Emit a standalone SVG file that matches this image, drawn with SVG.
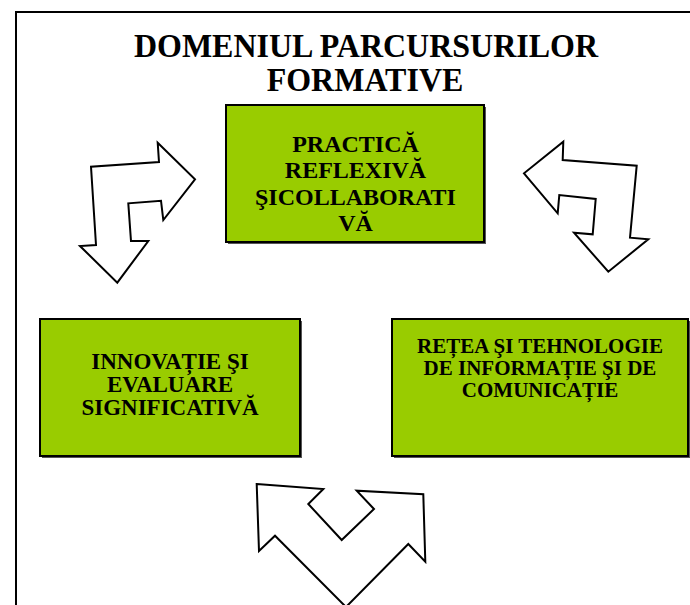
<svg xmlns="http://www.w3.org/2000/svg" width="690" height="605" viewBox="0 0 690 605">
<style>
.frame{fill:#fff;stroke:#000;stroke-width:2}
.box{fill:#99cc00;stroke:#000;stroke-width:2}
.shadow{fill:#555}
.arrow{fill:#fff;stroke:#000;stroke-width:2;stroke-linejoin:miter}
.t{font-family:"Liberation Serif","Times New Roman",serif;font-weight:bold;fill:#000;text-anchor:middle}
.title{font-size:32px}
.lbl{font-size:24px}
.lbl3{font-size:23px}
.lbl2{font-size:21px}
</style>
<rect x="0" y="0" width="690" height="605" fill="#fff"/>
<rect class="frame" x="16" y="12" width="720" height="700"/>
<g id="title">
<text class="t title" transform="translate(366,57) scale(1,1.05)" x="0" y="0">DOMENIUL PARCURSURILOR</text>
<text class="t title" transform="translate(365,91) scale(1,1.05)" x="0" y="0">FORMATIVE</text>
</g>
<g id="node-practica">
<rect class="shadow" x="228" y="107" width="258" height="137"/>
<rect class="box" x="226" y="105" width="258" height="137"/>
<text class="t lbl" x="355.5" y="151.5">PRACTICĂ</text>
<text class="t lbl" x="355.5" y="178">REFLEXIVĂ</text>
<text class="t lbl" x="355.5" y="204.5">ŞICOLLABORATI</text>
<text class="t lbl" x="355.5" y="231">VĂ</text>
</g>
<g id="node-innovatie">
<rect class="shadow" x="42" y="321" width="260" height="137"/>
<rect class="box" x="40" y="319" width="260" height="137"/>
<text class="t lbl3" x="170" y="369">INNOVAȚIE ŞI</text>
<text class="t lbl3" x="170" y="392">EVALUARE</text>
<text class="t lbl3" x="170" y="415">SIGNIFICATIVĂ</text>
</g>
<g id="node-retea">
<rect class="shadow" x="394" y="321" width="296" height="137"/>
<rect class="box" x="392" y="319" width="296" height="137"/>
<text class="t lbl2" x="540" y="353">REȚEA ŞI TEHNOLOGIE</text>
<text class="t lbl2" x="540" y="375">DE INFORMAȚIE ŞI DE</text>
<text class="t lbl2" x="540" y="397">COMUNICAȚIE</text>
</g>
<g id="connectors">
<polygon class="arrow" points="157.7,142.7 195,179.3 163.3,220 161,200.7 128.3,203.3 131,241 148.3,241 117.3,282.7 80,246 96,245 91,166.7 159,162"/>
<polygon class="arrow" points="563.3,141.7 562.7,160 636.7,165.7 630,237.7 648.3,239.3 608.3,271.7 574,232.7 592.7,234.3 595.7,199 559.3,195 557.7,213.3 524,173.3"/>
<polygon class="arrow" points="256.7,484 323.3,489 308.3,504 341.7,540 374,509 356.7,490.7 423.3,494.3 425.3,561.7 408.3,544 346,607 275,535.7 259,551"/>
</g>
</svg>
